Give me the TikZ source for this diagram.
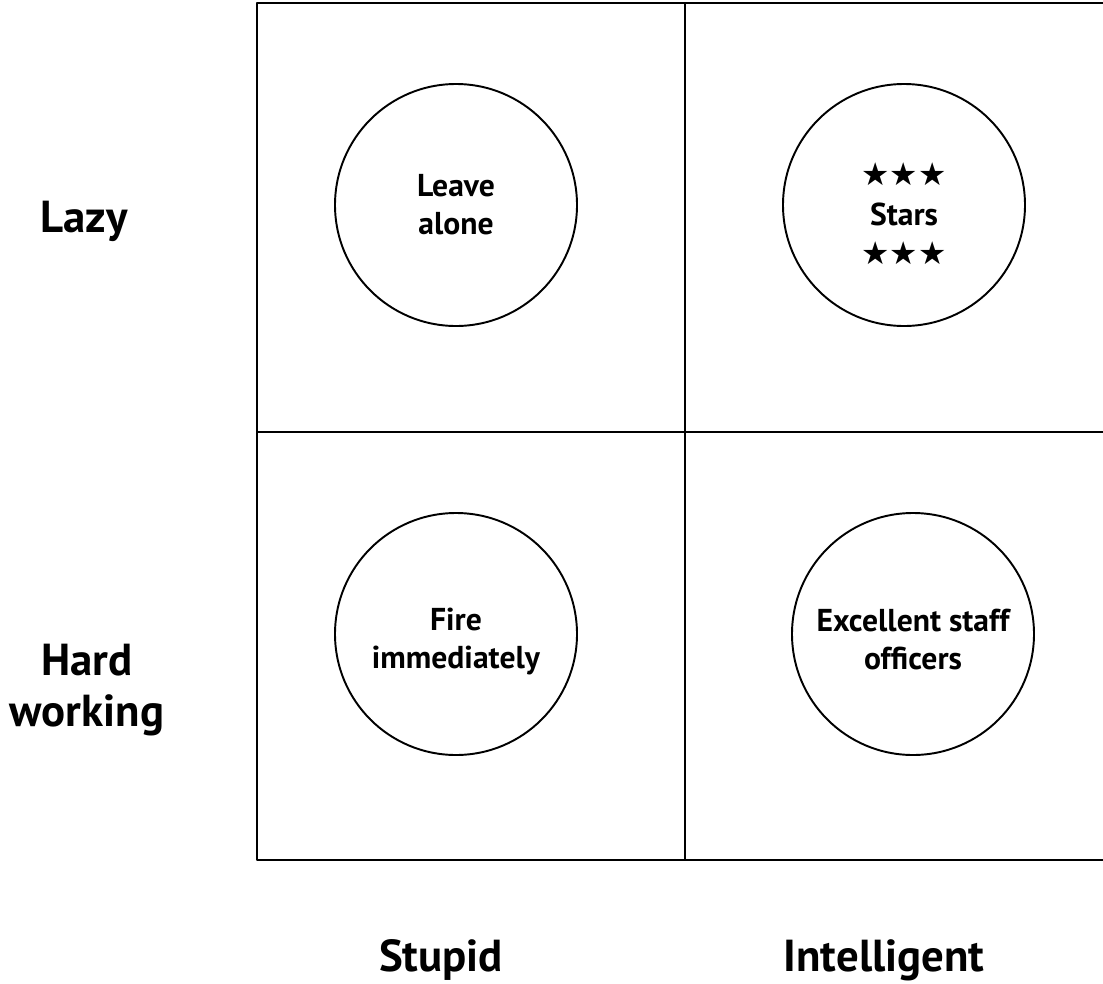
\documentclass[tikz,border=0pt]{standalone}
\usepackage{fontspec}
\setmainfont{PT Sans}
\newfontfamily\starfont{DejaVu Sans}
\newcommand{\threestars}{{\starfont ★★★}}
\newcommand{\lowerby}[1]{\rule{0pt}{#1}}
\begin{document}
\begin{tikzpicture}[x=0.02cm,y=-0.02cm,line join=round,
	cell/.style={draw,circle,line width=1.1pt,minimum size=242*0.02cm,inner sep=0pt,align=center,font=\fontsize{18}{21.5}\selectfont\bfseries},
	axis/.style={align=center,font=\fontsize{25.5}{29}\selectfont\bfseries}]
	\useasboundingbox (0,0) rectangle (1103,984);
	\begin{scope}
	\clip (0,0) rectangle (1103,984);
	\draw[line width=1.1pt] (257,3) rectangle (1115,860);
	\draw[line width=1.1pt] (685,3)--(685,860);
	\draw[line width=1.1pt] (257,432)--(1115,432);
	\end{scope}
	\node[cell] (leave) at (456,205) {Leave\\alone};
	\node[cell] (stars) at (904,205) {\lowerby{23pt}\threestars\\[1pt]Stars\\[1pt]\threestars};
	\node[cell] (fire) at (456,634) {\lowerby{21pt}Fire\\immediately};
	\node[cell] (staff) at (913,634) {\lowerby{19pt}Excellent staff\\officers};
	\node[axis] (lazy) at (84,221) {Lazy};
	\node[axis] (hard) at (87,690) {Hard\\working};
	\node[axis] (stupid) at (441,960) {Stupid};
	\node[axis] (intel) at (884,960) {Intelligent};
\end{tikzpicture}
\end{document}
